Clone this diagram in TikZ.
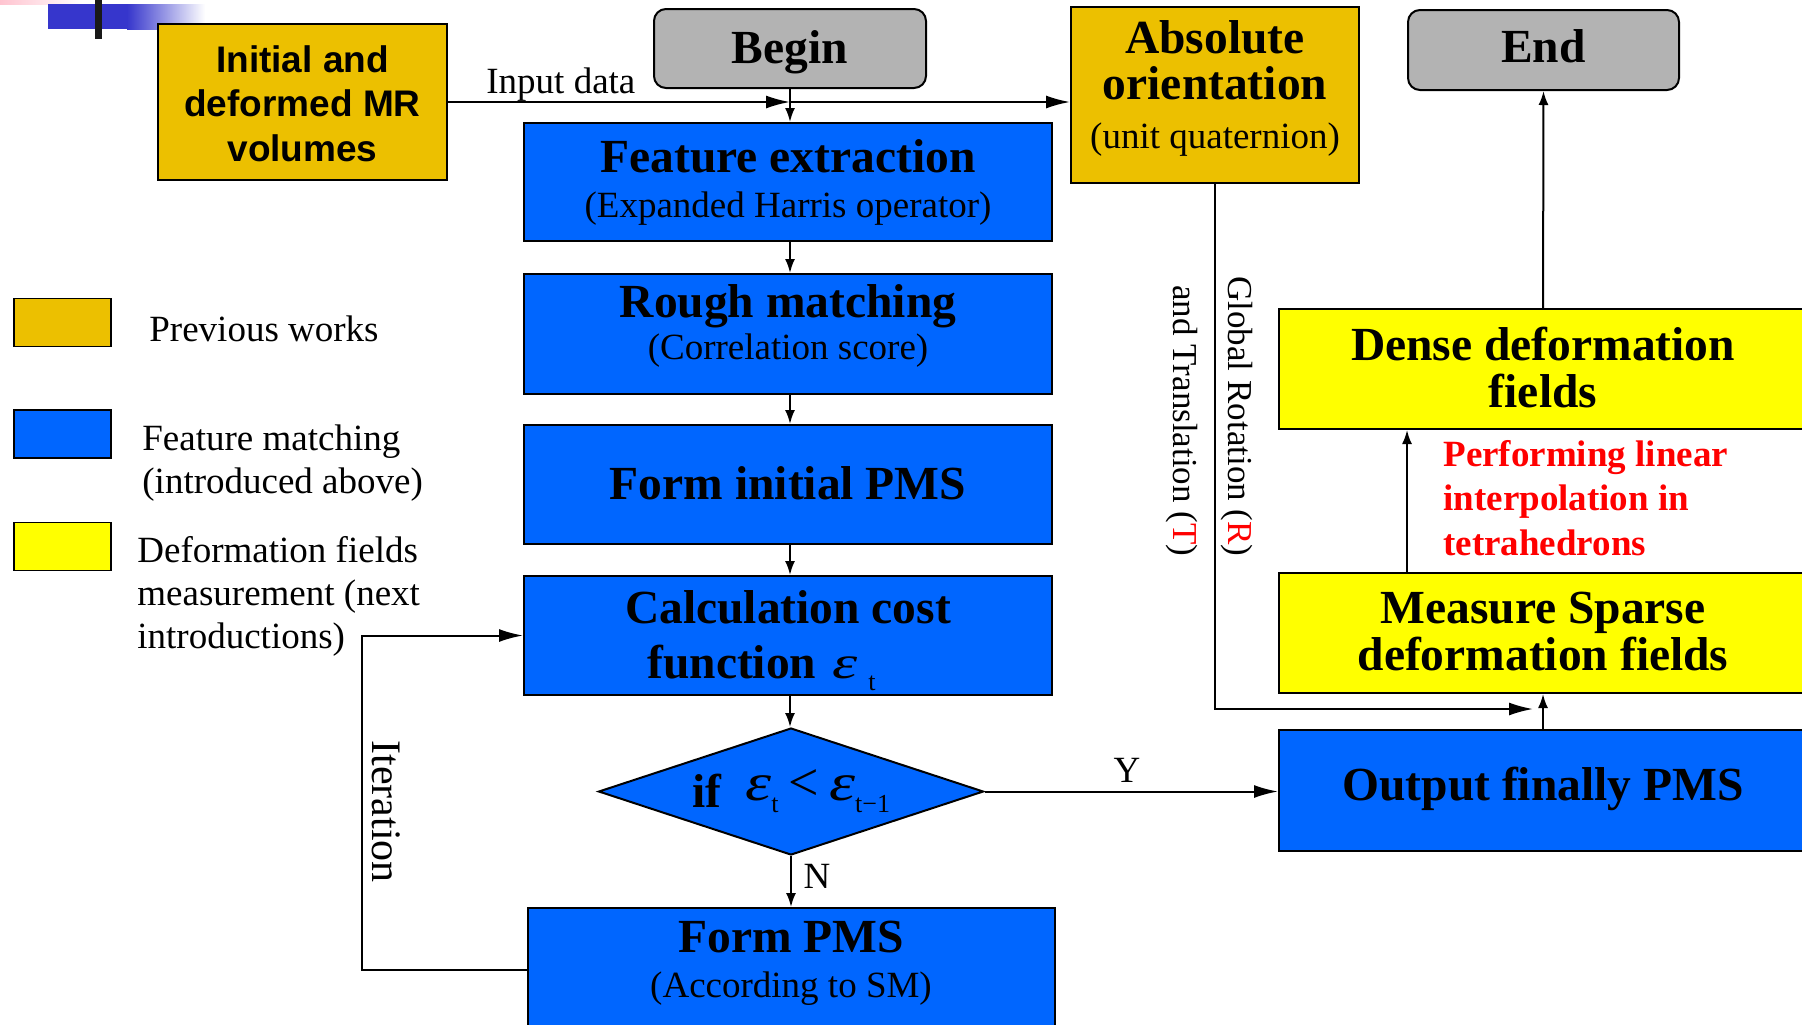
\documentclass[tikz,border=0pt]{standalone}
\usepackage{fontspec}
\usepackage{graphicx}
\setmainfont{Liberation Serif}
\newfontfamily\arialfont{Liberation Sans}
\usetikzlibrary{arrows.meta,shapes.geometric}
\definecolor{prevgold}{RGB}{236,192,0}
\definecolor{matchblue}{RGB}{0,102,255}
\definecolor{fieldyellow}{RGB}{255,255,0}
\definecolor{termgray}{RGB}{179,179,179}
\definecolor{decoblue}{RGB}{54,54,204}
\definecolor{decopink}{RGB}{255,196,208}
\newcommand\titlefont{\fontsize{23.75}{26}\selectfont\bfseries}
\newcommand\notefont{\fontsize{18.5}{22}\selectfont}
\newcommand\sansbold{\arialfont\fontsize{18.5}{22}\selectfont\bfseries}
\newcommand\epsfont{\mdseries\itshape\fontsize{22}{24}\selectfont}
\newcommand\subfont{\mdseries\upshape\fontsize{13}{15}\selectfont}
\newcommand\bigeps{\scalebox{1.5}[1.2]{\epsfont ε}}
\newcommand\wideeps{\scalebox{1.45}[1.05]{\epsfont ε}}

\begin{document}
\begin{tikzpicture}[x=0.5pt,y=-0.5pt,
  box/.style={draw=black, line width=1pt, inner sep=0pt},
  dims/.style 2 args={minimum width=#1*0.5pt, minimum height=#2*0.5pt},
  swatch/.style={draw=black, line width=0.7pt, inner sep=0pt, minimum width=48.5pt, minimum height=24pt},
  txt/.style={inner sep=0pt, anchor=base},
  conn/.style={line width=1pt, draw=black},
  bigtip/.style={-{Latex[length=12pt,width=6.5pt]}},
  smalltip/.style={-{Latex[length=7pt,width=5pt]}},
]
\useasboundingbox (0,0) rectangle (1802,1024);

% slide template corner
\shade[left color=decopink, right color=white] (0,0) rectangle (82,4);
\fill[decoblue] (48,4) rectangle (127,29);
\shade[left color=decoblue, right color=white] (127,4) rectangle (205,29);
\fill[black!90] (95,0) rectangle (102,39);

% blocks
\node[box, fill=prevgold, dims={289}{156}] (init) at (302.5,102) {};
\node[box, fill=termgray, rounded corners=6pt, dims={272}{79}] (begin) at (790,48.5) {};
\node[box, fill=prevgold, dims={288}{176}] (abs) at (1215,95) {};
\node[box, fill=termgray, rounded corners=6pt, dims={271}{80}] (end) at (1543.5,50) {};
\node[box, fill=matchblue, dims={528}{118}] (feat) at (788,182) {};
\node[box, fill=matchblue, dims={528}{120}] (rough) at (788,334) {};
\node[box, fill=matchblue, dims={528}{119}] (forminit) at (788,484.5) {};
\node[box, fill=matchblue, dims={528}{119}] (calc) at (788,635.5) {};
\node[box, fill=matchblue, diamond, dims={385}{127}] (dec) at (791,791.5) {};
\node[box, fill=matchblue, dims={527}{124}] (formpms) at (791.5,970) {};
\node[box, fill=matchblue, dims={528}{121}] (output) at (1543,790.5) {};
\node[box, fill=fieldyellow, dims={528}{120}] (sparse) at (1543,633) {};
\node[box, fill=fieldyellow, dims={528}{120}] (dense) at (1543,369) {};

% legend
\node[swatch, fill=prevgold] (legprev) at (62.5,322.5) {};
\node[swatch, fill=matchblue] (legmatch) at (62.5,434) {};
\node[swatch, fill=fieldyellow] (legfield) at (62.5,546.5) {};
\node[txt, anchor=base west, font=\notefont] (legprevT) at (149,341) {Previous works};
\node[txt, anchor=base west, font=\notefont] (legmatchA) at (142,450) {Feature matching};
\node[txt, anchor=base west, font=\notefont] (legmatchB) at (142,493) {(introduced above)};
\node[txt, anchor=base west, font=\notefont] (legfieldA) at (137,562) {Deformation fields};
\node[txt, anchor=base west, font=\notefont] (legfieldB) at (137,605) {measurement (next};
\node[txt, anchor=base west, font=\notefont] (legfieldC) at (137,648) {introductions)};

% block texts
\node[txt, font=\sansbold] (initA) at (302.5,72) {Initial and};
\node[txt, font=\sansbold] (initB) at (302.5,116.5) {deformed MR};
\node[txt, font=\sansbold] (initC) at (302.5,161) {volumes};
\node[txt, font=\titlefont] (beginT) at (790,63) {Begin};
\node[txt, font=\titlefont] (endT) at (1543.5,62) {End};
\node[txt, font=\titlefont] (absA) at (1215,53) {Absolute};
\node[txt, font=\titlefont] (absB) at (1215,99) {orientation};
\node[txt, font=\notefont] (absC) at (1215,148) {(unit quaternion)};
\node[txt, font=\titlefont] (featA) at (788,172) {Feature extraction};
\node[txt, font=\notefont] (featB) at (788,217) {(Expanded Harris operator)};
\node[txt, font=\titlefont] (roughA) at (788,317) {Rough matching};
\node[txt, font=\notefont] (roughB) at (788,359) {(Correlation score)};
\node[txt, font=\titlefont] (forminitT) at (788,499) {Form initial PMS};
\node[txt, font=\titlefont] (calcA) at (788,623) {Calculation cost};
\node[txt, anchor=base west, font=\titlefont] (calcB) at (647,678)
  {function\hspace{8pt}\wideeps\hspace{5.5pt}\raisebox{-6pt}{\subfont t}};
\node[txt, anchor=base west] (decT) at (692,807)
  {{\titlefont if}\hspace{12pt}\raisebox{3.5pt}{\bigeps\raisebox{-6pt}{\subfont t}\hspace{5pt}{\fontsize{27}{28}\selectfont <}\hspace{5pt}\bigeps\raisebox{-6pt}{\subfont t−1}}};
\node[txt, font=\titlefont] (formpmsA) at (791,952) {Form PMS};
\node[txt, font=\notefont] (formpmsB) at (791,997) {(According to SM)};
\node[txt, font=\titlefont] (outputT) at (1543,800) {Output finally PMS};
\node[txt, font=\titlefont] (sparseA) at (1543,623) {Measure Sparse};
\node[txt, font=\titlefont] (sparseB) at (1543,670) {deformation fields};
\node[txt, font=\titlefont] (denseA) at (1543,360) {Dense deformation};
\node[txt, font=\titlefont] (denseB) at (1543,407) {fields};
\node[txt, anchor=base west, font=\notefont\bfseries, text=red] (interpA) at (1443,466) {Performing linear};
\node[txt, anchor=base west, font=\notefont\bfseries, text=red] (interpB) at (1443,510) {interpolation in};
\node[txt, anchor=base west, font=\notefont\bfseries, text=red] (interpC) at (1443,555) {tetrahedrons};

% connector labels
\node[txt, anchor=base west, font=\notefont] (inputT) at (486,93) {Input data};
\node[txt, font=\notefont] (yesT) at (1127,782) {Y};
\node[txt, font=\notefont] (noT) at (817,888) {N};
\node[txt, anchor=base west, rotate=-90, font=\fontsize{21}{24}\selectfont] (iterT) at (372,740) {Iteration};
\node[txt, anchor=base west, rotate=-90, font=\fontsize{17.5}{20}\selectfont] (rotT) at (1228,276) {Global Rotation (\textcolor{red}{R})};
\node[txt, anchor=base west, rotate=-90, font=\fontsize{17.5}{20}\selectfont] (transT) at (1173,285) {and Translation (\textcolor{red}{T})};

% connectors
\coordinate (col) at (790,0);
\coordinate (interpcol) at (1407,0);
\coordinate (absin) at (1533,709);
\draw[conn, bigtip] (init.east) -- (init.east -| begin.south);
\draw[conn, bigtip] (init.east -| begin.south) -- (init.east -| abs.west);
\draw[conn, smalltip] (begin.south) -- (begin.south |- feat.north);
\draw[conn, smalltip] (feat.south -| col) -- (rough.north -| col);
\draw[conn, smalltip] (rough.south -| col) -- (forminit.north -| col);
\draw[conn, smalltip] (forminit.south -| col) -- (calc.north -| col);
\draw[conn, smalltip] (calc.south -| col) -- (dec.north -| col);
\draw[conn, smalltip] (dec.south) -- (formpms.north -| dec.south);
\draw[conn, bigtip] (dec.east) -- (output.west |- dec.east);
\draw[conn, bigtip] (formpms.west) -- ++(-165,0) |- (calc.west);
\draw[conn, smalltip] (output.north) -- (sparse.south);
\draw[conn, smalltip] (sparse.north -| interpcol) -- (dense.south -| interpcol);
\draw[conn, smalltip] (dense.north) -- (end.south);
\draw[conn, bigtip] (abs.south) |- (absin);
\end{tikzpicture}
\end{document}
